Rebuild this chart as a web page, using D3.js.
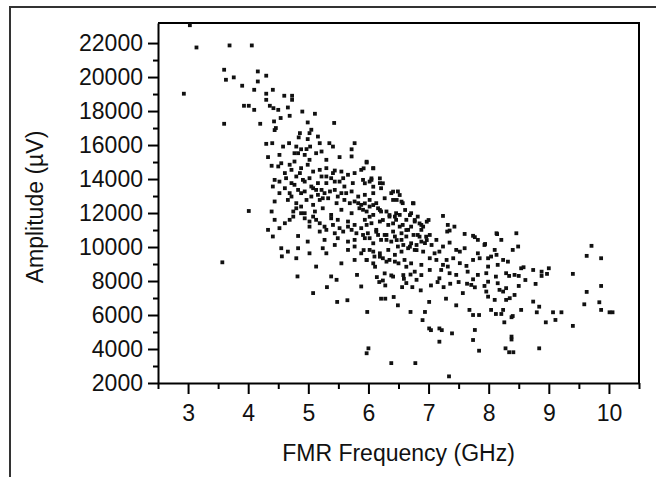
<!DOCTYPE html>
<html>
<head>
<meta charset="utf-8">
<script src="https://cdn.jsdelivr.net/npm/d3@7"></script>
<style>
  body { margin: 0; background: #fff; }
  text { font-family: "Liberation Sans", Arial, sans-serif; fill: #111; }
</style>
</head>
<body>
<div id="chart"></div>
<script>
// [frequency GHz, amplitude µV] pairs
const upperOutliers = [
  [3.03,23050],[3.14,21740],[2.93,19020],[3.69,21860],[4.06,21860],[3.60,20430],[3.63,19840],
  [3.76,19980],[3.90,19490],[4.16,20330],[4.30,20080],[4.16,19740],[4.10,19250],[4.41,19250],
  [4.30,19020],[4.30,18660],[4.60,18900],[4.73,18900],[4.73,18660],[3.93,18310],[4.01,18310],
  [4.10,18070],[4.36,18310],[4.42,18170],[4.50,18070],[4.66,18210],[4.69,17720],[3.60,17250],
  [4.20,17250],[4.43,17390],[4.46,17000],[4.54,17590],[4.90,17970],[4.99,17330],[5.05,16900],
  [5.11,17840],[5.43,17300],[4.01,12120],[3.57,9100]
];

const upperBand = [
  [4.86,16700],[5.02,16700],[4.99,16350],[5.16,16500],[5.19,16110],[5.35,16110],[5.41,15910],
  [5.77,16110],[5.72,15750],[4.30,16070],[4.40,16110],[4.58,15910],[4.68,16110],[4.80,15910],
  [4.88,15750],[5.03,15910],[4.97,15760],[4.44,16880],[4.84,16450]
];

const coreCloud = [
  [4.33,15290],[4.52,15420],[4.55,14930],[4.83,15520],[4.94,15420],[5.02,15130],[5.13,15520],
  [5.22,15620],[5.30,15130],[5.52,15290],[5.72,15330],[5.97,14970],[6.08,14640],
  [4.39,14780],[4.50,14740],[4.88,14640],[4.99,14840],[5.08,14440],[5.19,14540],[5.30,14640],
  [5.44,14500],[5.55,14440],[5.66,14250],[5.77,14350],[5.88,14540],[6.02,13850],
  [4.52,13850],[4.63,14050],[4.72,13760],[4.80,14150],[4.91,13950],[5.02,14050],[5.16,13760],
  [5.30,13760],[5.38,14050],[5.52,13850],[5.60,13560],[5.74,13760],[5.91,13950],[6.05,13950],
  [6.19,13760],[6.21,13460],
  [4.61,13460],[4.69,13170],[4.83,13360],[4.94,13270],[5.08,13460],[5.16,13070],[5.27,13170],
  [5.44,13360],[5.55,13170],[5.72,13270],[5.83,12970],[5.94,13070],[6.08,13170],[6.38,13170],
  [6.49,13270],
  [4.44,12680],[4.66,12770],[4.80,12580],[4.97,12770],[5.08,12480],[5.19,12770],[5.33,12870],
  [5.47,12580],[5.60,12770],[5.77,12680],[5.88,12480],[6.02,12770],[6.13,12580],[6.27,12870],
  [6.41,12770],[6.57,12580],[6.74,12580],
  [4.39,12090],[4.75,12090],[4.88,11990],[5.11,12090],[5.24,12280],[5.38,11890],[5.55,12190],
  [5.72,11990],[5.85,12280],[5.97,12090],[6.08,11890],[6.21,12090],[6.35,11790],[6.46,11990],
  [6.71,11990],[6.82,11790],
  [4.69,11600],[4.94,11690],[5.02,11500],[5.19,11400],[5.38,11690],[5.49,11600],[5.66,11500],
  [5.77,11300],[5.94,11600],[6.05,11400],[6.19,11500],[6.33,11300],[6.46,11600],[6.57,11300],
  [6.77,11500],[6.88,11300],
  [4.33,11010],[4.52,11110],[5.19,10910],[5.30,11010],[5.44,10810],[5.58,10910],[5.72,11010],
  [5.88,11110],[5.99,10810],[6.13,11010],[6.27,10710],[6.41,10910],[6.55,10810],[6.66,11010],
  [6.82,10710],
  [4.41,10620],[4.83,10650],[4.99,10320],[5.27,10420],[5.49,10520],[5.66,10320],[5.77,10420],
  [5.94,10520],[6.08,10220],[6.21,10420],[6.38,10320],[6.55,10420],[6.71,10220],[6.88,10320],
  [4.55,9930],[4.66,9730],[4.83,9930],[5.02,9630],[5.24,9930],[5.66,9830],[6.02,9830],
  [6.19,9630],[6.33,9830],[6.55,9730],[6.77,9830],
  [4.80,9340],[5.13,8850],[5.55,9040],[5.77,9240],[5.97,9240],[6.08,9040],[6.24,9340],
  [6.44,9140],[6.60,9240],[6.71,9040],[6.88,8950]
];

// second pass over the densest part of the cloud
const coreFill = [
  [5.97,15020],[5.92,14630],[6.08,14630],[6.05,14040],[6.19,14040],[6.24,13750],[5.94,13750],
  [6.08,13550],[6.41,13260],[6.52,13060],[6.47,12770],[6.55,12670],[6.75,12570],[6.61,12180],
  [6.69,11880],[6.77,11590],[6.85,11390],[6.97,11490],[7.00,11590],[6.91,11200],[5.94,12570],
  [6.08,12470],[6.19,12180],[6.35,11880],[6.02,11780],[6.24,11590],[6.41,11390],[6.52,11200],
  [6.63,11000],[6.75,10710],[6.85,10610],[6.97,10410],[5.97,11300],[6.13,10900],[6.30,10710],
  [6.47,10410],[6.58,10120],[6.69,10020],[6.80,9820],[6.91,9730],[5.92,9820],[6.08,9730],
  [6.19,9430],[6.35,9240],[6.50,9040],[6.63,8840],[6.77,8550],[6.88,8350],[5.97,9240],
  [6.11,8840],[6.27,8450],[6.41,8260],[6.58,8350],
  [4.77,13660],[4.88,13170],[5.05,12970],[5.13,13360],[5.24,12870],[5.36,13270],[5.49,12970],
  [5.63,13170],[5.69,12580],[5.83,12580],[5.91,12190],[6.02,12380],[6.16,12280],[6.30,12090],
  [6.44,11790],[6.52,11890],[6.63,11600],[6.71,11200],[6.88,11010],[5.02,11200],[5.13,11600],
  [5.27,11200],[5.41,11300],[5.52,11110],[5.66,11200],[5.80,10810],[5.91,10710],[6.02,10520],
  [6.16,10710],[6.30,10420],[6.44,10620],[6.63,10620],[6.80,10120],[6.49,10030],[6.66,9930],
  [6.44,9540],[6.30,9140],[6.10,9440],[5.88,9630],[5.77,10030],[5.44,10120],[5.30,9630],
  [4.61,14350],[4.72,14540],[4.44,13950],[5.22,14150],[5.41,14350],[5.58,14050],[4.52,13170],
  [4.41,13560],[4.88,12380],[4.75,11790],[4.61,11400],[4.44,11600],[4.77,15520],[4.56,9450],
  [4.69,14840],[4.77,15030],[4.86,14350],[4.94,13850],[5.05,13560],[4.72,12970],[4.80,12280],
  [4.94,11990],[5.08,11790],[5.22,13360],[5.30,14150],[5.44,13850]
];

const middleRight = [
  [7.24,11830],[7.32,11300],[7.43,11200],[7.31,10910],[7.35,10970],[7.60,10770],[7.77,10580],
  [7.82,10420],[8.13,10810],[8.21,10420],[8.46,10810],[6.96,10610],[7.02,10710],[7.13,10420],
  [6.94,10230],[7.05,10120],[7.24,10030],[7.35,10260],[7.18,9730],[7.10,9630],[7.46,9830],
  [7.52,9730],[7.60,9930],[7.82,9630],[7.93,10120],[8.10,9830],[8.40,9830],[8.49,10030],
  [7.02,9340],[7.13,9240],[7.30,9240],[7.41,9340],[7.24,8950],[7.32,8850],[7.52,9050],
  [7.63,8890],[7.74,9240],[7.85,9340],[7.99,9340],[8.04,9440],[8.13,9540],[8.24,9240],
  [8.32,9140],[7.99,8850],[8.15,8950],[7.02,8650],[7.21,8650],[7.35,8460],[7.46,8360],
  [7.65,8550],[7.82,8360],[7.96,8460],[8.29,8460],[8.43,8360],[7.74,10660],[7.94,10180],
  [8.14,10760],[7.18,8160],[7.74,8100],[8.12,8260],[8.34,8300],[8.50,8300]
];

const lowerTail = [
  [4.82,8270],[5.38,8270],[5.47,8070],[5.81,8360],[6.14,8230],[6.24,8030],[6.38,8330],
  [6.59,8130],[6.70,8380],[6.80,8070],
  [5.31,7640],[5.88,7680],[6.18,7940],[6.28,7740],[6.56,7640],[6.63,7880],[6.73,7640],
  [6.87,7450],[7.04,7740],[7.15,7940],[7.25,7640],[7.36,7840],[7.50,7940],[7.64,7840],
  [5.08,7290],[6.42,7060],[6.28,6960],[6.21,6960],[7.57,7290],[7.29,6960],
  [5.48,6770],[5.65,6870],[6.49,6570],[7.01,6770],[7.46,6570],
  [5.98,6180],[6.70,6180],[6.94,6180],[6.90,5700],
  [7.01,5210],[7.04,5110],[7.18,5210],[7.22,5110],[7.39,4920],
  [7.18,4430],[6.00,4040],[5.97,3750],[6.38,3170],[6.78,3170],[7.34,2390]
];

const lowerRight = [
  [7.68,6300],[7.74,6000],[7.84,6000],[8.04,6300],[8.12,6060],[8.21,6060],[8.24,6300],
  [8.38,5870],[8.40,5940],[8.26,5570],[7.77,5120],[7.74,4530],[7.84,3900],[8.38,4730],
  [8.38,4560],[8.28,4040],[8.34,3810],[8.41,3810],[7.71,7770],[7.77,7630],[7.93,7710],
  [7.99,7960],[7.96,7380],[7.99,7080],[8.10,6890],[8.15,7870],[8.18,7480],[8.24,7380],
  [8.29,7580],[8.29,6890],[8.35,6990],[8.43,7180],[8.50,7710]
];

const farRight = [
  [8.61,8060],[8.54,8750],[8.58,8810],[8.74,8650],[8.88,8550],[8.88,8300],[9.00,8750],
  [8.97,8420],[8.78,7830],[8.74,6790],[8.84,6490],[8.80,6160],[9.07,6160],[9.21,6160],
  [8.95,5570],[9.11,5710],[8.84,4040],[9.71,10070],[9.63,9480],[9.87,9340],[9.40,8420],
  [9.63,7360],[9.87,7710],[9.59,6630],[9.84,6750],[9.87,6300],[10.01,6160],[10.06,6160],
  [9.40,5360],[8.54,6300]
];

const xTicks = [3, 4, 5, 6, 7, 8, 9, 10];
const xMinorTicks = [2.5, 3.5, 4.5, 5.5, 6.5, 7.5, 8.5, 9.5, 10.5];
const yTicks = [2000, 4000, 6000, 8000, 10000, 12000, 14000, 16000, 18000, 20000, 22000];
const yMinorTicks = [3000, 5000, 7000, 9000, 11000, 13000, 15000, 17000, 19000, 21000];

const width = 656, height = 477;
const plot = { left: 158, right: 639, top: 23, bottom: 383 };

const svg = d3.select("#chart").append("svg")
  .attr("width", width)
  .attr("height", height);

svg.append("rect").attr("width", width).attr("height", height).attr("fill", "#fff");

// outer frame (top + left only)
svg.append("path")
  .attr("d", `M10,${height} V7 H${width}`)
  .attr("fill", "none")
  .attr("stroke", "#333")
  .attr("stroke-width", 2);

const x = d3.scaleLinear().domain([2.5, 10.5]).range([plot.left, plot.right]);
const y = d3.scaleLinear().domain([2000, 23180]).range([plot.bottom, plot.top]);

// axes
svg.append("g")
  .attr("transform", `translate(0,${plot.bottom})`)
  .call(d3.axisBottom(x).tickValues(xTicks).tickSize(11).tickPadding(11)
    .tickSizeOuter(0).tickFormat(d3.format("d")));

svg.append("g")
  .attr("transform", `translate(0,${plot.bottom})`)
  .call(d3.axisBottom(x).tickValues(xMinorTicks).tickSize(6).tickFormat(""))
  .call(g => g.select(".domain").remove());

svg.append("g")
  .attr("transform", `translate(${plot.left},0)`)
  .call(d3.axisLeft(y).tickValues(yTicks).tickSize(10).tickPadding(5)
    .tickSizeOuter(0).tickFormat(d3.format("d")));

svg.append("g")
  .attr("transform", `translate(${plot.left},0)`)
  .call(d3.axisLeft(y).tickValues(yMinorTicks).tickSize(5).tickFormat(""))
  .call(g => g.select(".domain").remove());

svg.selectAll(".domain, .tick line").attr("stroke", "#000").attr("stroke-width", 2);
svg.selectAll(".tick text")
  .attr("font-size", 23)
  .attr("font-family", "'Liberation Sans', Arial, sans-serif")
  .attr("fill", "#111");

// top and right edges of the plot box
svg.append("path")
  .attr("d", `M${plot.left},${plot.top} H${plot.right} V${plot.bottom}`)
  .attr("fill", "none")
  .attr("stroke", "#000")
  .attr("stroke-width", 2);

// points
const allPoints = [].concat(upperOutliers, upperBand, coreCloud, coreFill,
  middleRight, lowerTail, lowerRight, farRight);
const s = 3.8;
svg.append("g")
  .selectAll("rect")
  .data(allPoints)
  .join("rect")
  .attr("x", d => x(d[0]) - s / 2)
  .attr("y", d => Math.max(y(d[1]), plot.top + 1.5) - s / 2)
  .attr("width", s)
  .attr("height", s)
  .attr("fill", "#111");

// axis titles
svg.append("text")
  .attr("x", (plot.left + plot.right) / 2)
  .attr("y", 461)
  .attr("text-anchor", "middle")
  .attr("font-size", 23)
  .text("FMR Frequency (GHz)");

svg.append("text")
  .attr("transform", "translate(43,207) rotate(-90)")
  .attr("text-anchor", "middle")
  .attr("font-size", 23)
  .text("Amplitude (µV)");
</script>
</body>
</html>
